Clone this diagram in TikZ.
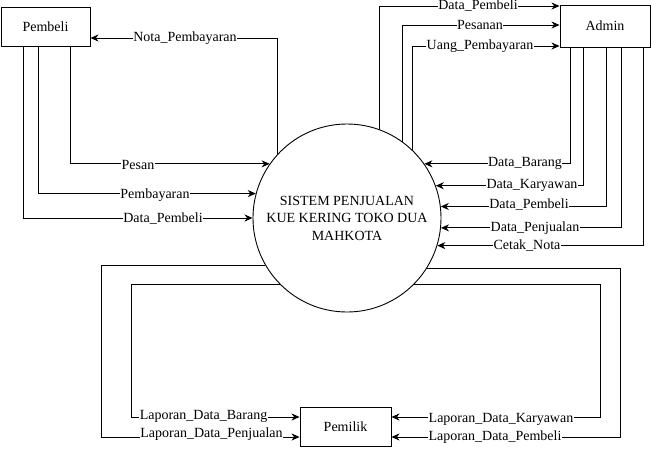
\documentclass[tikz,border=0pt]{standalone}
\usepackage{fontspec}
\setmainfont{Liberation Serif}
\usetikzlibrary{arrows.meta}
\begin{document}
\begin{tikzpicture}[x=1pt,y=-1pt,
  every node/.style={font=\fontsize{14}{17.5}\selectfont},
  ent/.style={draw,line width=0.9pt,rectangle,inner sep=0pt},
  proc/.style={draw,line width=0.9pt,circle,minimum size=188pt,inner sep=0pt,align=center},
  arr/.style={line width=0.9pt,-{Stealth[length=8pt,width=7pt,inset=2.5pt]}},
  lbl/.style={fill=white,inner sep=0.5pt}]
\useasboundingbox (0,0) rectangle (651,448);
% entities
\node[ent,minimum width=89pt,minimum height=39pt] (pembeli) at (45.5,26.5) {Pembeli};
\node[ent,minimum width=90pt,minimum height=42pt] (admin) at (605,26) {Admin};
\node[ent,minimum width=91pt,minimum height=39pt] (pemilik) at (345.5,426.5) {Pemilik};
\node[proc] (sys) at (347,218) {SISTEM PENJUALAN\\KUE KERING TOKO DUA\\MAHKOTA};
% Pembeli flows
\draw[arr] (sys.137.2) |- (pembeli.east |- 0,38);
\draw[arr] (pembeli.south -| 70,0) |- (sys.145.7);
\draw[arr] (pembeli.south -| 38,0) |- (sys.165.8);
\draw[arr] (pembeli.south -| 23,0) |- (sys.180.6);
% Admin flows in
\draw[arr] (sys.70.1) |- (admin.west |- 0,6);
\draw[arr] (sys.54.9) |- (admin.west |- 0,25);
\draw[arr] (sys.46.3) |- (admin.west |- 0,46);
% Admin flows out
\draw[arr] (admin.south -| 570,0) |- (sys.35.8);
\draw[arr] (admin.south -| 583,0) |- (sys.20.6);
\draw[arr] (admin.south -| 606,0) |- (sys.7.9);
\draw[arr] (admin.south -| 621,0) |- (sys.-6.1);
\draw[arr] (admin.south -| 643,0) |- (sys.-17.3);
% Pemilik flows
\draw[arr] (sys.210.7) -| (101,437) -- (pemilik.west |- 0,437);
\draw[arr] (sys.225.5) -| (131,417) -- (pemilik.west |- 0,417);
\draw[arr] (sys.-32.1) -| (620,437) -- (pemilik.east |- 0,437);
\draw[arr] (sys.-45.5) -| (600,417) -- (pemilik.east |- 0,417);
% labels
\node[lbl] (l1) at (185,38) {Nota\_Pembayaran};
\node[lbl] (l2) at (138,165) {Pesan};
\node[lbl] (l3) at (155,195) {Pembayaran};
\node[lbl] (l4) at (163,219) {Data\_Pembeli};
\node[lbl] (l5) at (478,6) {Data\_Pembeli};
\node[lbl] (l6) at (480,25) {Pesanan};
\node[lbl] (l7) at (480,46) {Uang\_Pembayaran};
\node[lbl] (l8) at (525,163) {Data\_Barang};
\node[lbl] (l9) at (532,185) {Data\_Karyawan};
\node[lbl] (l10) at (529,205) {Data\_Pembeli};
\node[lbl] (l11) at (535,228) {Data\_Penjualan};
\node[lbl] (l12) at (527,246) {Cetak\_Nota};
\node[lbl] (l13) at (203.5,416) {Laporan\_Data\_Barang};
\node[lbl] (l14) at (211.5,434) {Laporan\_Data\_Penjualan};
\node[lbl] (l15) at (501,419) {Laporan\_Data\_Karyawan};
\node[lbl] (l16) at (495,437) {Laporan\_Data\_Pembeli};
\end{tikzpicture}
\end{document}
